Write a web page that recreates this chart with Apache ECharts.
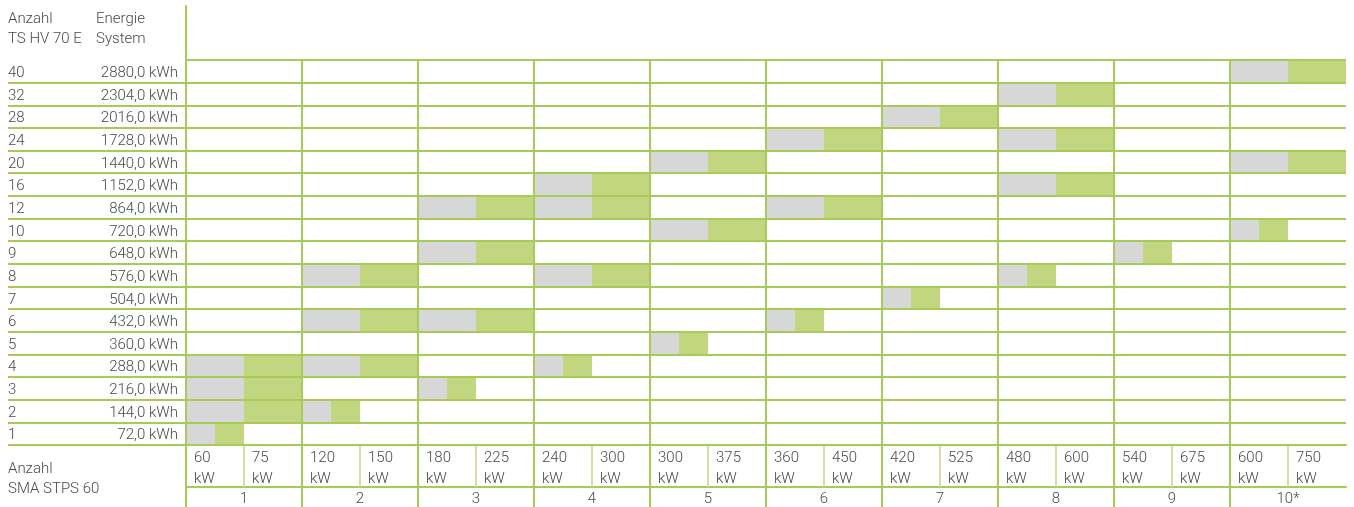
<!DOCTYPE html>
<html><head><meta charset="utf-8">
<script src="https://cdn.jsdelivr.net/npm/echarts@6/dist/echarts.min.js"></script>
<style>html,body{margin:0;padding:0;background:#fff}#c{width:1354px;height:507px}</style>
</head><body><div id="c"></div>
<script>
const rowCounts = ['40','32','28','24','20','16','12','10','9','8','7','6','5','4','3','2','1'];
const rowEnergy = ['2880,0 kWh','2304,0 kWh','2016,0 kWh','1728,0 kWh','1440,0 kWh','1152,0 kWh','864,0 kWh','720,0 kWh','648,0 kWh','576,0 kWh','504,0 kWh','432,0 kWh','360,0 kWh','288,0 kWh','216,0 kWh','144,0 kWh','72,0 kWh'];
const groups = ['1','2','3','4','5','6','7','8','9','10*'];
const powers = ['60','75','120','150','180','225','240','300','300','375','360','450','420','525','480','600','540','675','600','750'];
// [row, group]: cell filled completely
const fullCells = [['40',10],['32',8],['28',7],['24',6],['24',8],['20',5],['20',10],['16',4],['16',8],['12',3],['12',4],['12',6],['10',5],['9',3],['8',2],['8',4],['6',2],['6',3],['4',1],['4',2],['3',1],['2',1]];
// [row, group]: cell filled half
const halfCells = [['10',10],['9',9],['8',8],['7',7],['6',6],['5',5],['4',4],['3',3],['2',2],['1',1]];

const LINE = '#a8ca58', LIGHT = '#cfe2a2', TEXT = '#4a4a4a', GRAY = '#d6d7d6', GREEN = '#c2d680';
const font = {fontFamily: 'Roboto', fontWeight: 300, fontSize: 15, color: TEXT};

const cellData = fullCells.map(([r, g]) => [(g - 1) * 2, rowCounts.indexOf(r), 2])
  .concat(halfCells.map(([r, g]) => [(g - 1) * 2, rowCounts.indexOf(r), 1]));

function renderItem(params, api) {
  const x0 = api.value(0), yi = api.value(1), span = api.value(2);
  const a = api.coord([x0, yi]);
  const m = api.coord([x0 + span / 2, yi]);
  const e = api.coord([x0 + span, yi]);
  const h = api.size([0, 1])[1];
  return {type: 'group', children: [
    {type: 'rect', shape: {x: a[0], y: a[1] - h / 2, width: m[0] - a[0], height: h}, style: {fill: GRAY}},
    {type: 'rect', shape: {x: m[0], y: a[1] - h / 2, width: e[0] - m[0], height: h}, style: {fill: GREEN}}
  ]};
}

const chart = echarts.init(document.getElementById('c'), null, {renderer: 'canvas'});
chart.setOption({
  animation: false,
  textStyle: {fontFamily: 'Roboto'},
  title: [
    {text: 'Anzahl\nTS HV 70 E', left: 8, top: 9, padding: 0, textStyle: Object.assign({}, font, {lineHeight: 20})},
    {text: 'Energie\nSystem', left: 96, top: 9, padding: 0, textStyle: Object.assign({}, font, {lineHeight: 20})},
    {text: 'Anzahl\nSMA STPS 60', left: 8, top: 459, padding: 0, textStyle: Object.assign({}, font, {lineHeight: 20})}
  ],
  grid: [
    {left: 186, right: 8, top: 60, bottom: 62, outerBoundsMode: 'none'},
    {left: 186, right: 8, top: 6, height: 54, outerBoundsMode: 'none'}
  ],
  xAxis: [
    {type: 'category', gridIndex: 0, position: 'bottom', data: groups.slice().reverse(), inverse: true, z: 6,
      axisLine: {show: true, lineStyle: {color: LINE, width: 2}},
      axisTick: {show: true, length: 62, interval: (i) => i !== 0, lineStyle: {color: LINE, width: 2}},
      axisLabel: Object.assign({margin: 47, interval: 0}, font),
      splitLine: {show: true, interval: (i) => i !== 0, lineStyle: {color: LINE, width: 2}}},
    {type: 'category', gridIndex: 0, position: 'bottom', offset: 42, boundaryGap: false, data: powers.concat(['']), z: 5,
      axisLine: {show: true, lineStyle: {color: LINE, width: 2}},
      axisTick: {show: true, inside: true, length: 42, interval: (i) => i % 2 === 1, lineStyle: {color: LIGHT, width: 2}},
      axisLabel: Object.assign({inside: true, margin: -3, interval: 0, align: 'left', verticalAlign: 'bottom',
        padding: [0, 0, 0, 8], lineHeight: 21, formatter: (v) => v ? v + '\nkW' : ''}, font),
      splitLine: {show: false}},
    {type: 'value', gridIndex: 0, position: 'bottom', min: 0, max: 20, show: false},
    {type: 'value', gridIndex: 1, show: false}
  ],
  yAxis: [
    {type: 'category', gridIndex: 0, data: rowCounts, inverse: true, z: 6,
      axisLine: {show: true, lineStyle: {color: LINE, width: 2}},
      axisTick: {show: true, length: 178, interval: (i) => i !== 0, lineStyle: {color: LINE, width: 2}},
      axisLabel: {margin: 8, interval: 0, formatter: (v, i) => '{a|' + v + '}{b|' + rowEnergy[i] + '}',
        rich: {a: Object.assign({width: 88, align: 'left', padding: [4, 0, 0, 0]}, font),
               b: Object.assign({width: 82, align: 'right', padding: [4, 0, 0, 0]}, font)}},
      splitLine: {show: true, lineStyle: {color: LINE, width: 2}}},
    {type: 'value', gridIndex: 1, axisLine: {show: true, lineStyle: {color: LINE, width: 2}},
      axisTick: {show: false}, axisLabel: {show: false}, splitLine: {show: false}}
  ],
  series: [{type: 'custom', xAxisIndex: 2, yAxisIndex: 0, renderItem: renderItem, data: cellData, z: 1, silent: true, clip: false}]
});
</script></body></html>
